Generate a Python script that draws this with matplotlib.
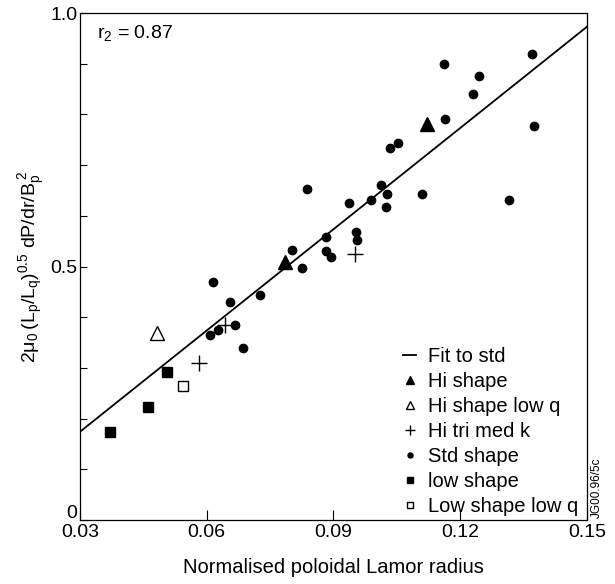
import matplotlib
matplotlib.use("Agg")
import matplotlib.pyplot as plt
import matplotlib.transforms as mtransforms
import numpy as np

plt.rcParams["font.family"] = ["Liberation Sans", "DejaVu Sans"]
plt.rcParams["mathtext.default"] = "regular"

# -----------------------------
# Data
# -----------------------------
std_x = [0.1161, 0.1369, 0.1245, 0.1229, 0.1165, 0.1375, 0.1033, 0.1053, 0.1012, 0.1027,
         0.0988, 0.1024, 0.1110, 0.1316, 0.0936, 0.0837, 0.0882, 0.0953, 0.0956, 0.0882,
         0.0893, 0.0825, 0.0803, 0.0616, 0.0727, 0.0654, 0.0608, 0.0627, 0.0666, 0.0685]
std_y = [0.899, 0.920, 0.876, 0.840, 0.790, 0.778, 0.733, 0.744, 0.660, 0.643,
         0.631, 0.617, 0.644, 0.631, 0.625, 0.652, 0.559, 0.569, 0.552, 0.531,
         0.519, 0.497, 0.533, 0.470, 0.444, 0.430, 0.365, 0.375, 0.384, 0.339]

hi_x = [0.1121, 0.0785]
hi_y = [0.781, 0.509]

hi_lowq_x = [0.0483]
hi_lowq_y = [0.369]

tri_x = [0.0952, 0.0643, 0.0582]
tri_y = [0.524, 0.384, 0.310]

low_x = [0.0505, 0.0461, 0.0370]
low_y = [0.291, 0.222, 0.174]

low_lowq_x = [0.0545]
low_lowq_y = [0.264]

fit_x = [0.03, 0.15]
fit_y = [0.174, 0.973]

# -----------------------------
# Plot
# -----------------------------
fig = plt.figure(figsize=(6.15, 5.84), dpi=100)
ax = fig.add_axes([0.130, 0.1096, 0.8245, 0.8681])

ax.plot(fit_x, fit_y, color="black", lw=1.3, label="Fit to std")
ax.plot(hi_x, hi_y, "^", color="black", ms=10, label="Hi shape")
ax.plot(hi_lowq_x, hi_lowq_y, "^", mfc="white", mec="black", mew=1.0, ms=10, label="Hi shape low q")
ax.plot(tri_x, tri_y, "+", color="black", ms=12, mew=1.0, label="Hi tri med k")
ax.plot(std_x, std_y, "o", color="black", ms=6, label="Std shape")
ax.plot(low_x, low_y, "s", color="black", ms=7, label="low shape")
ax.plot(low_lowq_x, low_lowq_y, "s", mfc="white", mec="black", mew=1.0, ms=7, label="Low shape low q")

ax.set_xlim(0.03, 0.15)
ax.set_ylim(0, 1.0)

ax.set_xticks([0.03, 0.06, 0.09, 0.12, 0.15])
ax.set_xticklabels(["0.03", "0.06", "0.09", "0.12", "0.15"])
yt = np.round(np.arange(0, 1.01, 0.1), 1)
ax.set_yticks(yt)
ax.set_yticklabels(["0" if v == 0 else ("0.5" if v == 0.5 else ("1.0" if v == 1.0 else "")) for v in yt])

ax.tick_params(axis="x", direction="in", length=7, width=0.8, labelsize=14, pad=3)
ax.tick_params(axis="y", direction="in", length=5, width=0.8, labelsize=14, pad=2)
for s in ax.spines.values():
    s.set_linewidth(0.9)

# lift the "0" label so it clears "0.03"
shift = mtransforms.ScaledTranslation(0, 8 / 100, fig.dpi_scale_trans)
lab0 = ax.get_yticklabels()[0]
lab0.set_transform(lab0.get_transform() + shift)

ax.set_xlabel("Normalised poloidal Lamor radius", fontsize=14.5, labelpad=12)
ax.set_ylabel(r"$2\mu_0\,(L_p/L_q)^{0.5}\;dP/dr/B_p^{\;2}$", fontsize=14, labelpad=2)

ax.text(0.034, 0.96, r"r$_2$ = 0.87", transform=ax.transAxes, fontsize=14, va="center", ha="left")

leg = ax.legend(loc="lower left", frameon=False, fontsize=14.5, markerscale=0.6,
                handlelength=0.6, handletextpad=0.6, labelspacing=0.3,
                borderpad=0, borderaxespad=0, bbox_to_anchor=(0.638, 0.008))

fig.text(0.961, 0.113, "JG00.96/5c", rotation=90, fontsize=8.5, ha="left", va="bottom")

plt.savefig("out.png", dpi=100)
plt.close()
